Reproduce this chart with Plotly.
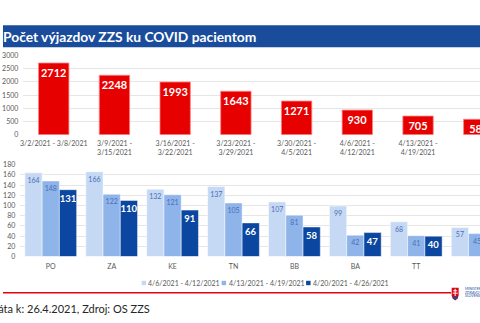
import plotly.graph_objects as go

W, H = 480, 323

# ---- data ----
weeks = ["3/2/2021 - 3/8/2021", "3/9/2021 - 3/15/2021", "3/16/2021 - 3/22/2021",
         "3/23/2021 - 3/29/2021", "3/30/2021 - 4/5/2021", "4/6/2021 - 4/12/2021",
         "4/13/2021 - 4/19/2021", "4/20/2021 - 4/26/2021"]
week_ticktext = ["3/2/2021 - 3/8/2021", "3/9/2021 -<br>3/15/2021", "3/16/2021 -<br>3/22/2021",
                 "3/23/2021 -<br>3/29/2021", "3/30/2021 -<br>4/5/2021", "4/6/2021 -<br>4/12/2021",
                 "4/13/2021 -<br>4/19/2021", "4/20/2021 -<br>4/26/2021"]
weekly_total = [2712, 2248, 1993, 1643, 1271, 930, 705, 583]

regions = ["PO", "ZA", "KE", "TN", "BB", "BA", "TT", "NR"]
series_names = ["4/6/2021 - 4/12/2021", "4/13/2021 - 4/19/2021", "4/20/2021 - 4/26/2021"]
week1 = [164, 166, 132, 137, 107, 99, 68, 57]
week2 = [148, 122, 121, 105, 81, 42, 41, 45]
week3 = [131, 110, 91, 66, 58, 47, 40, 44]

FONT = "Lato"
GRAY = "#595959"
RED = "#e60000"
C1, C2, C3 = "#c6d9f4", "#8eb4ea", "#0b47a0"


def px(x):
    return x / W


def py(y):
    return 1 - y / H


fig = go.Figure()

# ---- top chart ----
fig.add_trace(go.Bar(
    x=list(range(len(weeks))), y=weekly_total, width=0.5,
    marker=dict(color=RED, line=dict(color="#ff8080", width=0.8)),
    text=[str(v) for v in weekly_total], textposition="inside", insidetextanchor="end",
    textangle=0,
    insidetextfont=dict(color="white", size=11, family=FONT, weight="bold"),
    constraintext="none", cliponaxis=True, showlegend=False,
    xaxis="x", yaxis="y", hoverinfo="skip"))

# ---- bottom chart ----
for vals, col, name, tcol, tsize, tw in [
        (week1, C1, series_names[0], "#4a6fb5", 7, "normal"),
        (week2, C2, series_names[1], "#4a6fb5", 7, "normal"),
        (week3, C3, series_names[2], "white", 9.5, "bold")]:
    fig.add_trace(go.Bar(
        x=list(range(len(regions))), y=vals, name=name,
        marker=dict(color=col, line=dict(color="rgba(255,255,255,0.6)", width=0.8)),
        text=[str(v) for v in vals], textposition="inside", insidetextanchor="end",
        textangle=0,
        insidetextfont=dict(color=tcol, size=tsize, family=FONT, weight=tw),
        constraintext="none", cliponaxis=True, showlegend=False,
        xaxis="x2", yaxis="y2", hoverinfo="skip"))

top_left, top_step = 20.5, 61.1
bot_left, bot_step = 17.4, 61.3

fig.update_layout(
    width=W, height=H, margin=dict(l=0, r=0, t=0, b=0),
    paper_bgcolor="white", plot_bgcolor="white",
    font=dict(family=FONT, color=GRAY, size=7),
    barmode="group", bargap=0.15, bargroupgap=0,
    xaxis=dict(domain=[px(top_left), 1], range=[-0.5, (W - top_left) / top_step - 0.5],
               tickmode="array", tickvals=list(range(len(weeks))), ticktext=week_ticktext,
               showgrid=False, zeroline=False, showline=False, ticks="",
               tickfont=dict(size=7, color=GRAY), ticklabelstandoff=3, anchor="y"),
    yaxis=dict(domain=[py(133), py(52) + 0.001], range=[0, 3000], dtick=500,
               showgrid=True, gridcolor="#e6e6e6", gridwidth=1, zeroline=False,
               showline=False, ticks="", tickfont=dict(size=7, color=GRAY),
               ticklabelstandoff=4, anchor="x"),
    xaxis2=dict(domain=[px(bot_left), 1], range=[-0.5, (W - bot_left) / bot_step - 0.5],
                tickmode="array", tickvals=list(range(len(regions))), ticktext=regions,
                showgrid=False, zeroline=False, showline=False, ticks="",
                tickfont=dict(size=7, color=GRAY), ticklabelstandoff=4, anchor="y2"),
    yaxis2=dict(domain=[py(258), py(164) + 0.001], range=[0, 180], dtick=20,
                showgrid=True, gridcolor="#e6e6e6", gridwidth=1, zeroline=False,
                showline=False, ticks="", tickfont=dict(size=7, color=GRAY),
                ticklabelstandoff=4, anchor="x2"),
)

shapes = []
annotations = []

# title banner
shapes.append(dict(type="rect", xref="paper", yref="paper", x0=0, x1=1,
                   y0=py(43.3), y1=py(20.7), fillcolor="#1a4c9c", line=dict(width=0), layer="below"))
annotations.append(dict(xref="paper", yref="paper", x=0, y=py(32), xanchor="left", yanchor="middle",
                        xshift=-2,
                        text="<b>Počet výjazdov ZZS ku COVID pacientom</b>", showarrow=False,
                        font=dict(family=FONT, size=13.8, color="white")))

# manual legend
for (sx, tx), col, name in zip([(139.5, 144), (220, 225), (305, 310)], [C1, C2, C3], series_names):
    shapes.append(dict(type="rect", xref="paper", yref="paper", x0=px(sx), x1=px(sx + 4.5),
                       y0=py(287.3), y1=py(282.8), fillcolor=col, line=dict(width=0)))
    annotations.append(dict(xref="paper", yref="paper", x=px(tx), y=py(285), xanchor="left",
                            yanchor="middle", text=name, showarrow=False,
                            font=dict(family=FONT, size=7, color=GRAY)))

# red separator line
shapes.append(dict(type="line", xref="paper", yref="paper", x0=0, x1=px(451), y0=py(295), y1=py(295),
                   line=dict(color="#e3000f", width=1.5)))

# footer (its first letter falls just off the left edge, as in the source)
annotations.append(dict(xref="paper", yref="paper", x=0, y=py(311), xanchor="left", yanchor="middle",
                        xshift=-15,
                        text="Dáta k: 26.4.2021, Zdroj: OS ZZS", showarrow=False,
                        font=dict(family=FONT, size=11, color="#262626")))

# logo: shield
def pth(pts):
    return "M " + " L ".join(f"{px(x):.5f},{py(y):.5f}" for x, y in pts) + " Z"

shield = [(451.5, 290), (458.5, 290), (458.5, 298), (457.5, 301), (455, 303), (452.5, 301), (451.5, 298)]
shapes.append(dict(type="path", xref="paper", yref="paper", path=pth(shield),
                   fillcolor="#e3000f", line=dict(width=0)))
shapes.append(dict(type="path", xref="paper", yref="paper",
                   path=pth([(452.3, 299), (457.7, 299), (457, 301), (455, 302.6), (453, 301)]),
                   fillcolor="#1a4c9c", line=dict(width=0)))
shapes.append(dict(type="rect", xref="paper", yref="paper", x0=px(454.5), x1=px(455.5),
                   y0=py(298.5), y1=py(291), fillcolor="white", line=dict(width=0)))
shapes.append(dict(type="rect", xref="paper", yref="paper", x0=px(453), x1=px(457),
                   y0=py(293.5), y1=py(292.5), fillcolor="white", line=dict(width=0)))
shapes.append(dict(type="rect", xref="paper", yref="paper", x0=px(452.5), x1=px(457.5),
                   y0=py(296), y1=py(295), fillcolor="white", line=dict(width=0)))
for yy, t in [(291.5, "MINISTERSTVO"), (295, "ZDRAVOTNÍCTVA"), (298.5, "SLOVENSKEJ REPUBLIKY")]:
    annotations.append(dict(xref="paper", yref="paper", x=px(463), y=py(yy), xanchor="left",
                            yanchor="middle", text=t, showarrow=False,
                            font=dict(family=FONT, size=3.5, color="#1a4c9c")))

fig.update_layout(shapes=shapes, annotations=annotations)
fig.write_html("out.html")
